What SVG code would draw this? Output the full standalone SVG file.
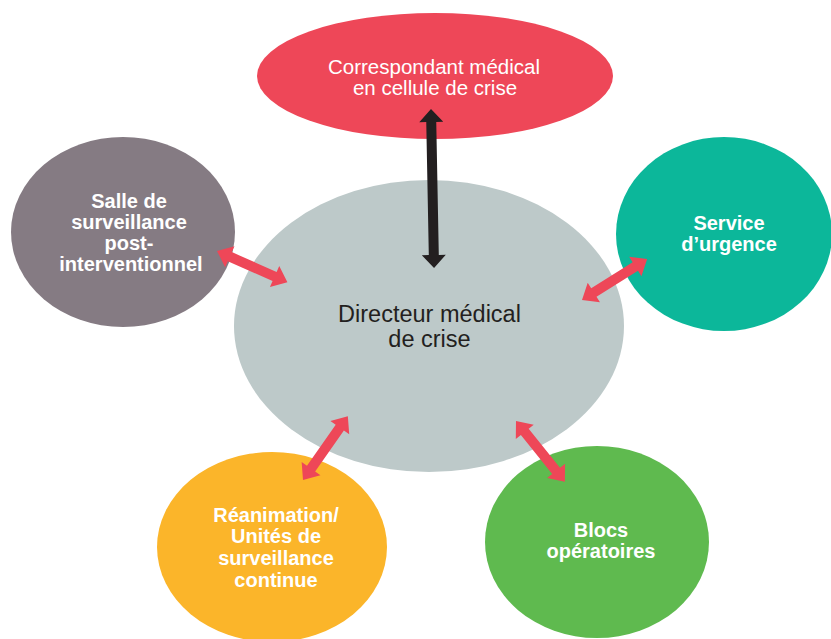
<svg xmlns="http://www.w3.org/2000/svg" width="831" height="639" viewBox="0 0 831 639">
  <style>
    .lbl { font-family: "Liberation Sans", Arial, sans-serif; font-weight: bold; font-size: 20px; fill: #ffffff; text-anchor: middle; }
    .reg { font-family: "Liberation Sans", Arial, sans-serif; font-size: 20.5px; fill: #ffffff; text-anchor: middle; }
    .ctr { font-family: "Liberation Sans", Arial, sans-serif; font-size: 23.5px; fill: #231f20; text-anchor: middle; }
    .red { fill: #ee4758; }
    .blk { fill: #231f20; }
  </style>
  <rect width="831" height="639" fill="#ffffff"/>
  <g id="node-correspondant">
    <ellipse cx="435" cy="76" rx="178" ry="63" fill="#ee4758"/>
    <text class="reg" x="434" y="74">Correspondant médical</text>
    <text class="reg" x="435" y="95">en cellule de crise</text>
  </g>
  <g id="node-sspi">
    <ellipse cx="123" cy="232" rx="112" ry="95" fill="#857b83"/>
    <text class="lbl" x="129" y="208">Salle de</text>
    <text class="lbl" x="129" y="229">surveillance</text>
    <text class="lbl" x="129" y="250">post-</text>
    <text class="lbl" x="131" y="271">interventionnel</text>
  </g>
  <g id="node-urgence">
    <ellipse cx="724" cy="234" rx="108" ry="97" fill="#0cb79a"/>
    <text class="lbl" x="729" y="230">Service</text>
    <text class="lbl" x="729" y="251">d’urgence</text>
  </g>
  <g id="node-reanimation">
    <ellipse cx="272" cy="547" rx="115" ry="95" fill="#fbb52a"/>
    <text class="lbl" x="276" y="522">Réanimation/</text>
    <text class="lbl" x="276" y="543">Unités de</text>
    <text class="lbl" x="276" y="565">surveillance</text>
    <text class="lbl" x="276" y="587">continue</text>
  </g>
  <g id="node-blocs">
    <ellipse cx="597" cy="542" rx="112" ry="96" fill="#5fba4f"/>
    <text class="lbl" x="601" y="537">Blocs</text>
    <text class="lbl" x="601" y="558">opératoires</text>
  </g>
  <g id="node-directeur">
    <ellipse cx="429" cy="326" rx="195" ry="146" fill="#bdc9c9"/>
    <text class="ctr" x="429.5" y="322">Directeur médical</text>
    <text class="ctr" x="429.5" y="347">de crise</text>
  </g>
  <g id="connectors">
    <path class="blk" transform="translate(431,109) rotate(88.9)" d="M0,0 L13,-12 L13,-5 L146,-5 L146,-12 L159,0 L146,12 L146,5 L13,5 L13,12 Z"/>
    <path class="red" transform="translate(217,251) rotate(23.9)" d="M0,0 L14,-11.5 L14,-5 L63,-5 L63,-11.5 L77,0 L63,11.5 L63,5 L14,5 L14,11.5 Z"/>
    <path class="red" transform="translate(582,300) rotate(-32.2)" d="M0,0 L14,-11.5 L14,-5 L63,-5 L63,-11.5 L77,0 L63,11.5 L63,5 L14,5 L14,11.5 Z"/>
    <path class="red" transform="translate(303,480) rotate(-54.9)" d="M0,0 L14,-11.5 L14,-5 L64,-5 L64,-11.5 L78,0 L64,11.5 L64,5 L14,5 L14,11.5 Z"/>
    <path class="red" transform="translate(516,421) rotate(51.2)" d="M0,0 L14,-11.5 L14,-5 L64,-5 L64,-11.5 L78,0 L64,11.5 L64,5 L14,5 L14,11.5 Z"/>
  </g>
</svg>
